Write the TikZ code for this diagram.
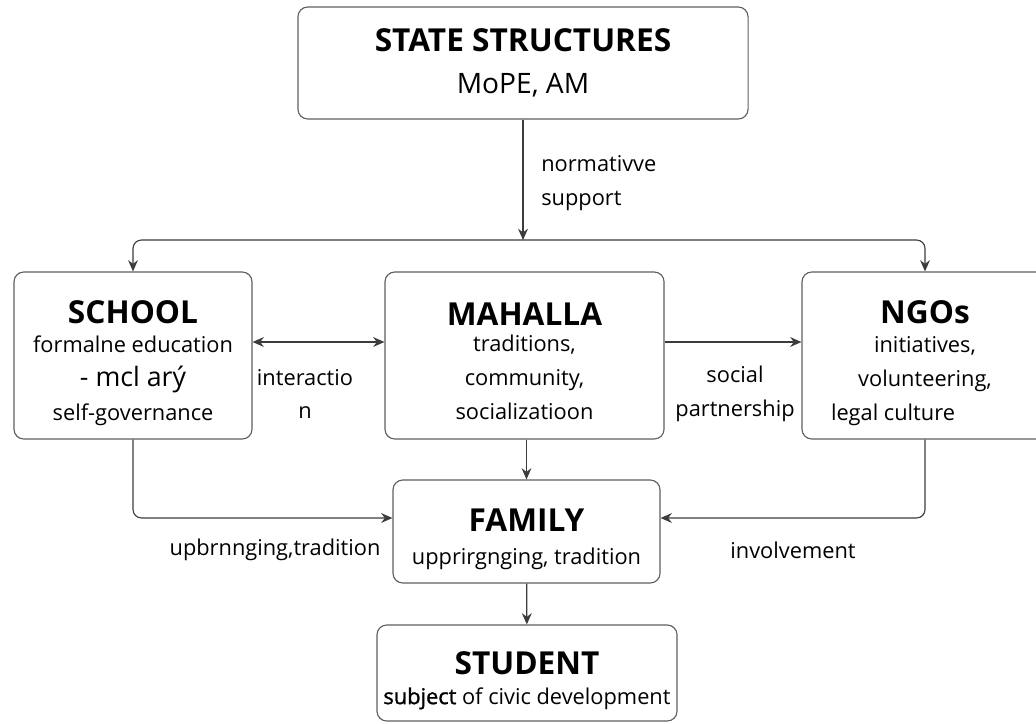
\documentclass[tikz,border=0pt]{standalone}
\usepackage{fontspec}
\setmainfont{Open Sans}
\newfontface\semibold{Open Sans}[FakeBold=1.2]
\usepackage{tikz}
\usetikzlibrary{
	arrows.meta,
	calc,
	positioning
}
\definecolor{LineGray}{RGB}{60,60,60}
\definecolor{BoxGray}{RGB}{95,95,95}
\newcommand{\boxtitle}[1]{{\fontsize{22.5}{26}\selectfont\bfseries #1}}
\newcommand{\titlestrut}{\rule{0pt}{27pt}}
\newcommand{\boxbody}{\fontsize{15.5}{24}\selectfont}

\begin{document}
\begin{tikzpicture}[x=0.025cm,y=-0.025cm,
		box/.style={draw=BoxGray,line width=0.8pt,rounded corners=7pt,align=center,inner sep=0pt,fill=white,font=\boxbody},
		link/.style={LineGray,line width=0.8pt,-{Stealth[length=8pt,width=7pt]}},
		lbl/.style={align=left,font=\boxbody,inner sep=0pt}]
		\useasboundingbox (0,0) rectangle (1036,723);
		
		% boxes
		\node[box,minimum width=11.25cm,minimum height=2.8cm] (state) at (523,63)
			{\boxtitle{STATE STRUCTURES}\\[6pt]{\fontsize{20}{24}\selectfont MoPE, AM}};
		\node[box,minimum width=5.95cm,minimum height=4.175cm] (school) at (133,355.5)
			{\titlestrut\boxtitle{SCHOOL}\\[-3pt]formalne education\\{\fontsize{19}{24}\selectfont - mcl arý\hspace*{1cm}}\\self-governance};
		\node[box,minimum width=6.975cm,minimum height=4.175cm] (mahalla) at (524.5,355.5)
			{\rule{0pt}{24pt}\boxtitle{MAHALLA}\\[-5pt]traditions,\\community,\\socializatioon};
		\node[box,minimum width=6.15cm,minimum height=4.175cm] (ngo) at (925,355.5)
			{\titlestrut\boxtitle{NGOs}\\[-3pt]initiatives,\\volunteering,\\legal culture\hspace*{1.6cm}};
		\node[box,minimum width=6.675cm,minimum height=2.575cm] (family) at (526.5,531.5)
			{\titlestrut\boxtitle{FAMILY}\\upprirgnging, tradition};
		\node[box,minimum width=7.5cm,minimum height=2.4cm] (student) at (527,673)
			{\titlestrut\boxtitle{STUDENT}\\[-3pt]{\semibold subject} of civic development};
		
		% split under the state box
		\coordinate (split) at (523,240);
		\draw[link] (state) -- (split);
		\draw[link,rounded corners=6pt] (split) -| (school.north);
		\draw[link,rounded corners=6pt] (split) -| (ngo.north);
		\node[lbl,anchor=west] (normlbl) at (541,183) {normativve\\support};
		
		% middle row
		\draw[link,{Stealth[length=8pt,width=7pt]}-{Stealth[length=8pt,width=7pt]}] (school.east |- 0,342) -- (mahalla.west |- 0,342);
		\draw[link] (mahalla.east |- 0,342) -- (ngo.west |- 0,342);
		\node[lbl,align=center] (interlbl) at (305,394) {interactio\\n};
		\node[lbl,align=center] (partlbl) at (735,394) {social\\partnership};
		
		% into family
		\draw[link] (mahalla.south -| family.north) -- (family.north);
		\draw[link,rounded corners=6pt] (school.south) |- (family.west |- 0,518);
		\draw[link,rounded corners=6pt] (ngo.south) |- (family.east |- 0,518);
		\node[lbl] (uplbl) at (275,550) {upbrnnging,tradition};
		\node[lbl] (invlbl) at (793,550) {involvement};
		
		% family to student
		\draw[link] (family) -- (student);
	\end{tikzpicture}
\end{document}
